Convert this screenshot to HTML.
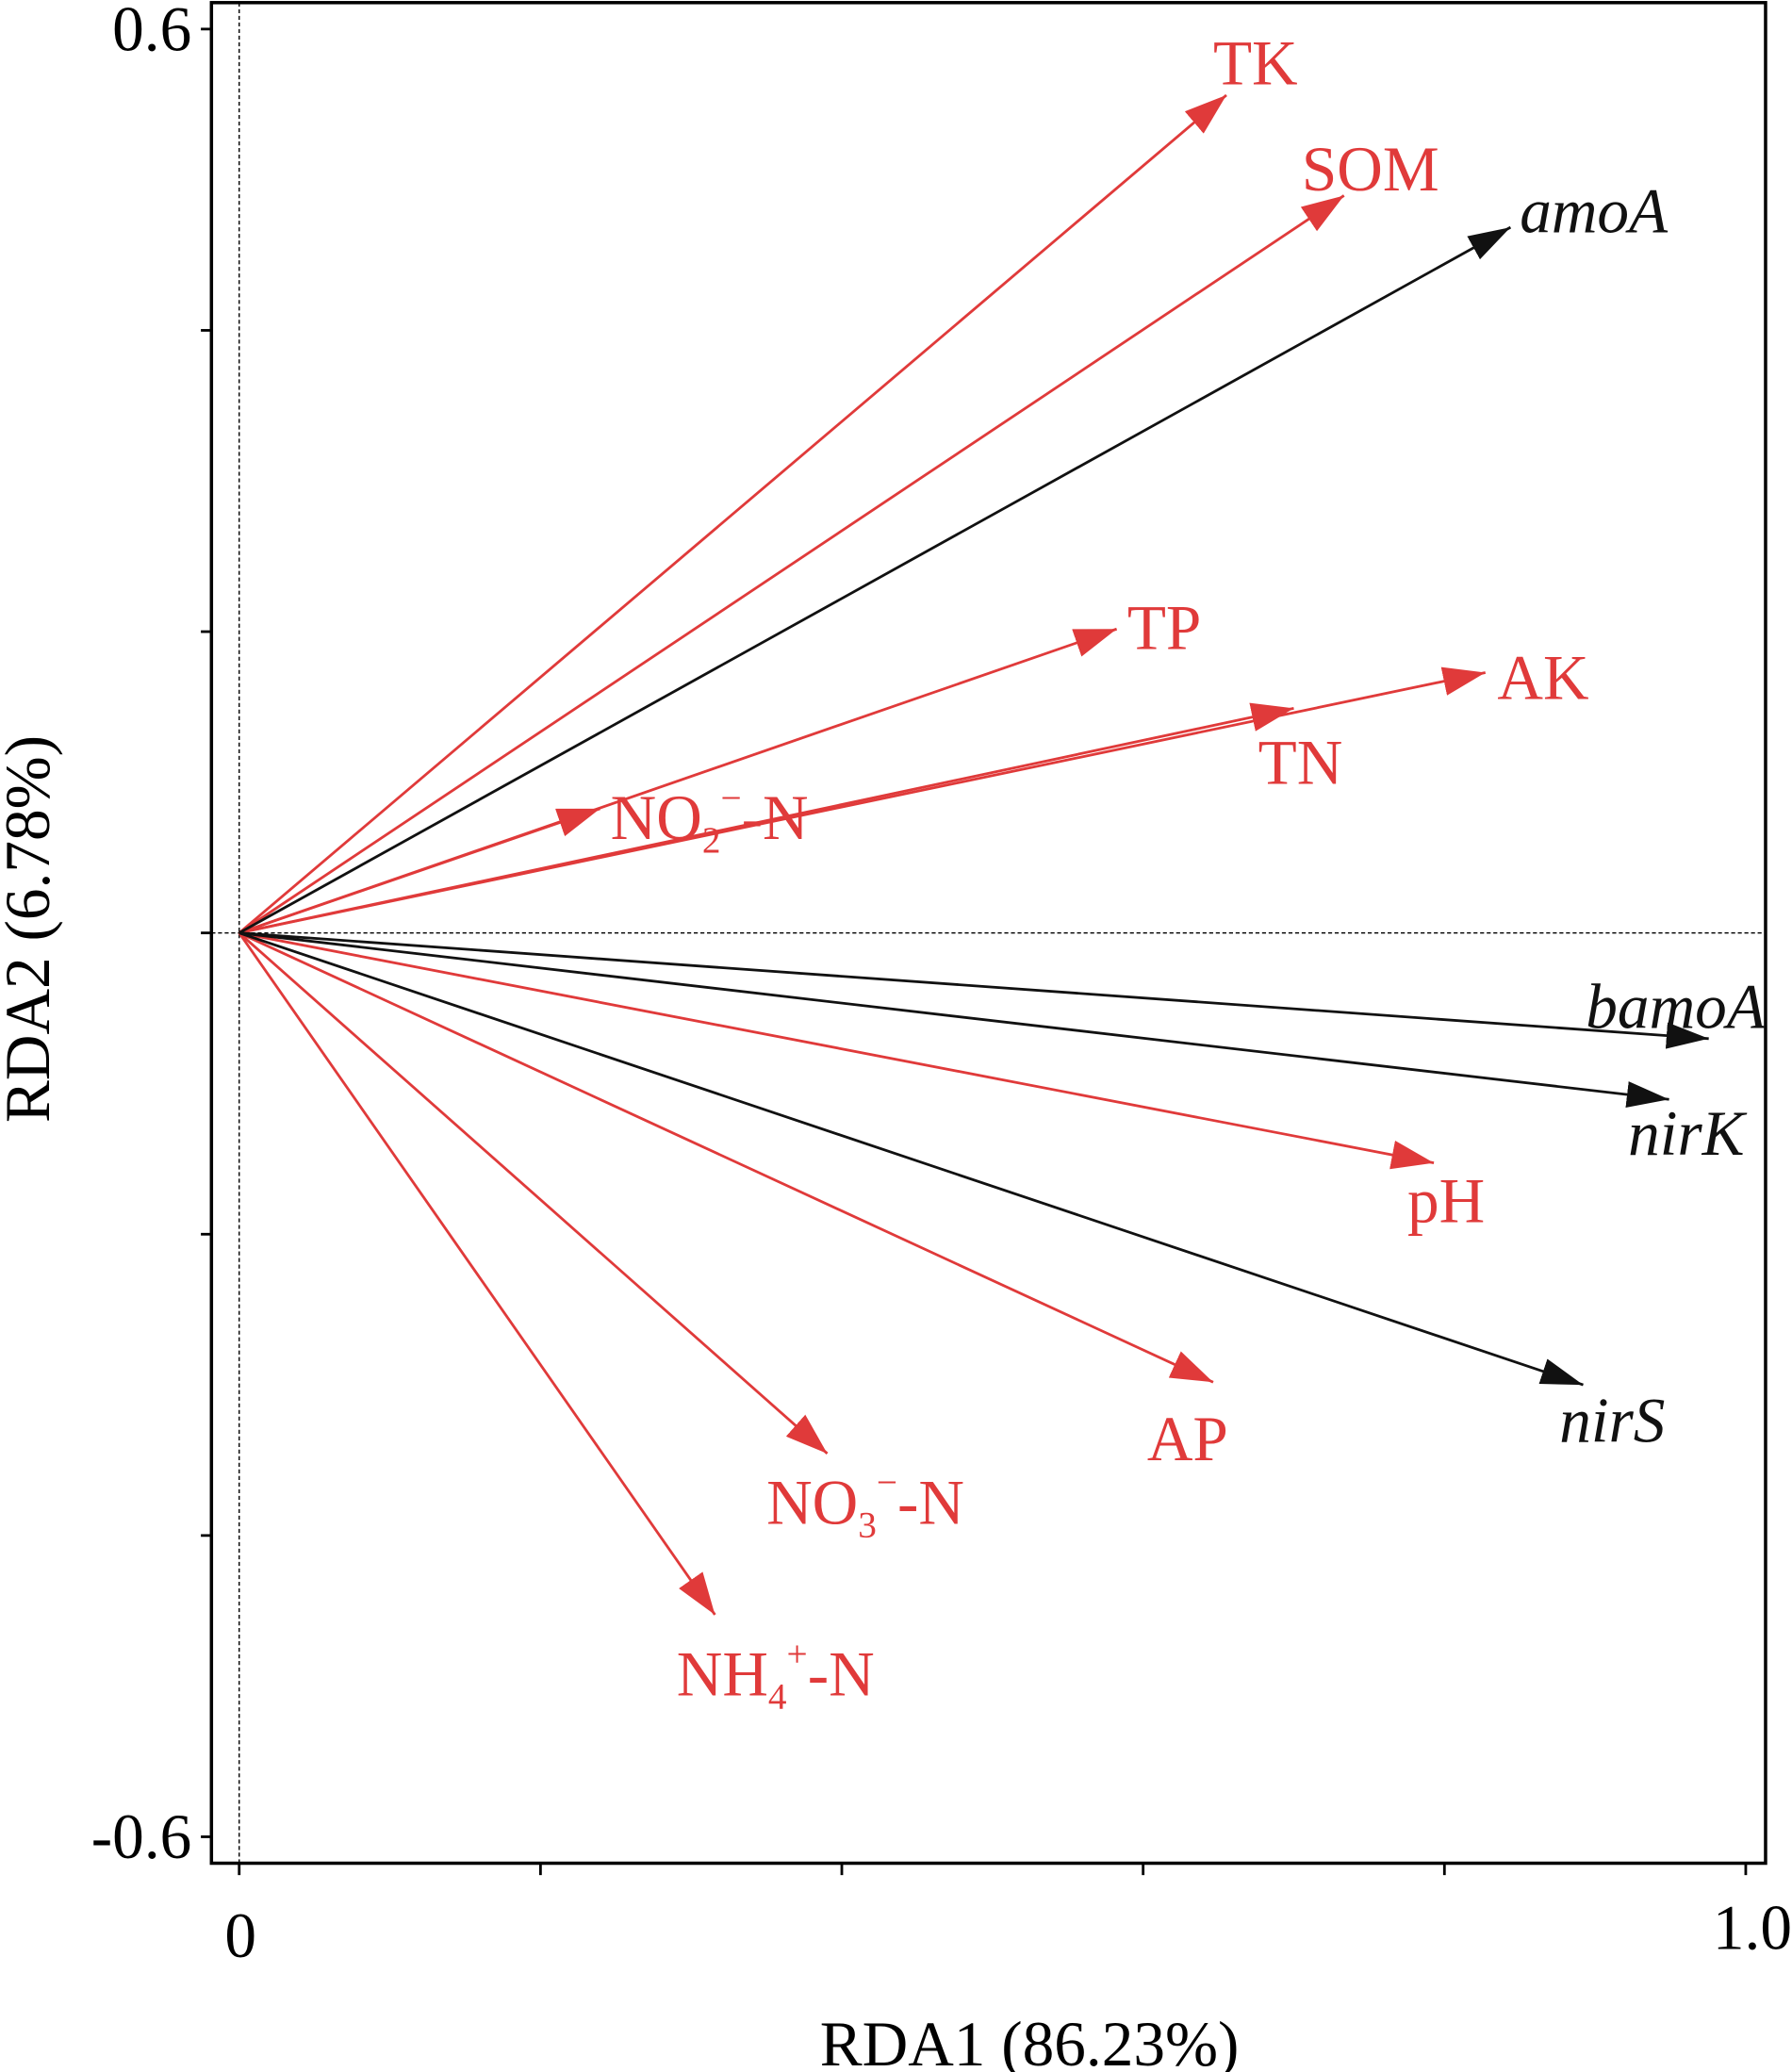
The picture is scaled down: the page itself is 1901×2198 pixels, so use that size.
<!DOCTYPE html>
<html><head><meta charset="utf-8"><style>html,body{margin:0;padding:0;background:#fff}svg{display:block}text{font-family:"Liberation Serif","Times New Roman",serif}</style></head>
<body>
<svg width="1901" height="2198" viewBox="0 0 1356 1568" preserveAspectRatio="none" xmlns="http://www.w3.org/2000/svg">
<defs>
<marker id="r" markerUnits="userSpaceOnUse" markerWidth="34" markerHeight="24" refX="32" refY="11" orient="auto"><path d="M0,0 L32,11 L0,22 Z" fill="#e03a3a"/></marker>
<marker id="k" markerUnits="userSpaceOnUse" markerWidth="34" markerHeight="24" refX="32" refY="10" orient="auto"><path d="M0,0 L32,10 L0,20 Z" fill="#111"/></marker>
</defs>
<rect x="160" y="2" width="1176" height="1408" fill="none" stroke="#000" stroke-width="2.5"/>
<line x1="181" y1="2" x2="181" y2="1410" stroke="#000" stroke-width="1" stroke-dasharray="3,2"/>
<line x1="160" y1="706" x2="1336" y2="706" stroke="#000" stroke-width="1" stroke-dasharray="3,2"/>
<g stroke="#000" stroke-width="2">
<line x1="152" y1="22" x2="160" y2="22"/><line x1="152" y1="250" x2="160" y2="250"/><line x1="152" y1="478" x2="160" y2="478"/><line x1="152" y1="706" x2="160" y2="706"/><line x1="152" y1="934" x2="160" y2="934"/><line x1="152" y1="1162" x2="160" y2="1162"/><line x1="152" y1="1390" x2="160" y2="1390"/>
<line x1="181" y1="1410" x2="181" y2="1419"/><line x1="409" y1="1410" x2="409" y2="1419"/><line x1="637" y1="1410" x2="637" y2="1419"/><line x1="865" y1="1410" x2="865" y2="1419"/><line x1="1093" y1="1410" x2="1093" y2="1419"/><line x1="1321" y1="1410" x2="1321" y2="1419"/>
</g>
<g font-size="48" fill="#000">
<text x="145" y="38" text-anchor="end">0.6</text>
<text x="145" y="1406" text-anchor="end">-0.6</text>
<text x="182" y="1481" text-anchor="middle">0</text>
<text x="1326" y="1475" text-anchor="middle">1.0</text>
<text x="779" y="1563" text-anchor="middle">RDA1 (86.23%)</text>
<text transform="translate(37,703) rotate(-90)" text-anchor="middle">RDA2 (6.78%)</text>
</g>
<g stroke="#e03a3a" stroke-width="2" fill="none" marker-end="url(#r)">
<line x1="181" y1="706" x2="928" y2="72"/>
<line x1="181" y1="706" x2="1017" y2="148"/>
<line x1="181" y1="706" x2="845" y2="476"/>
<line x1="181" y1="706" x2="1124" y2="509"/>
<line x1="181" y1="706" x2="979" y2="536"/>
<line x1="181" y1="706" x2="454" y2="612"/>
<line x1="181" y1="706" x2="1085" y2="880"/>
<line x1="181" y1="706" x2="918" y2="1046"/>
<line x1="181" y1="706" x2="626" y2="1100"/>
<line x1="181" y1="706" x2="541" y2="1222"/>
</g>
<g stroke="#111" stroke-width="2" fill="none" marker-end="url(#k)">
<line x1="181" y1="706" x2="1143" y2="172"/>
<line x1="181" y1="706" x2="1293" y2="786"/>
<line x1="181" y1="706" x2="1263" y2="832"/>
<line x1="181" y1="706" x2="1198" y2="1048"/>
</g>
<g font-size="48" fill="#e03a3a">
<text x="918" y="64">TK</text>
<text x="985" y="144">SOM</text>
<text x="853" y="491">TP</text>
<text x="1133" y="529">AK</text>
<text x="952" y="593">TN</text>
<text x="462" y="635">NO<tspan font-size="28" dy="10">2</tspan><tspan font-size="28" dy="-32">−</tspan><tspan dy="22">-N</tspan></text>
<text x="1065" y="925">pH</text>
<text x="868" y="1105">AP</text>
<text x="580" y="1153">NO<tspan font-size="28" dy="10">3</tspan><tspan font-size="28" dy="-32">−</tspan><tspan dy="22">-N</tspan></text>
<text x="512" y="1283">NH<tspan font-size="28" dy="10">4</tspan><tspan font-size="28" dy="-32">+</tspan><tspan dy="22">-N</tspan></text>
</g>
<g font-size="48" fill="#111" font-style="italic">
<text x="1150" y="176">amoA</text>
<text x="1200" y="778">bamoA</text>
<text x="1232" y="874">nirK</text>
<text x="1180" y="1091">nirS</text>
</g>
</svg>
</body></html>
